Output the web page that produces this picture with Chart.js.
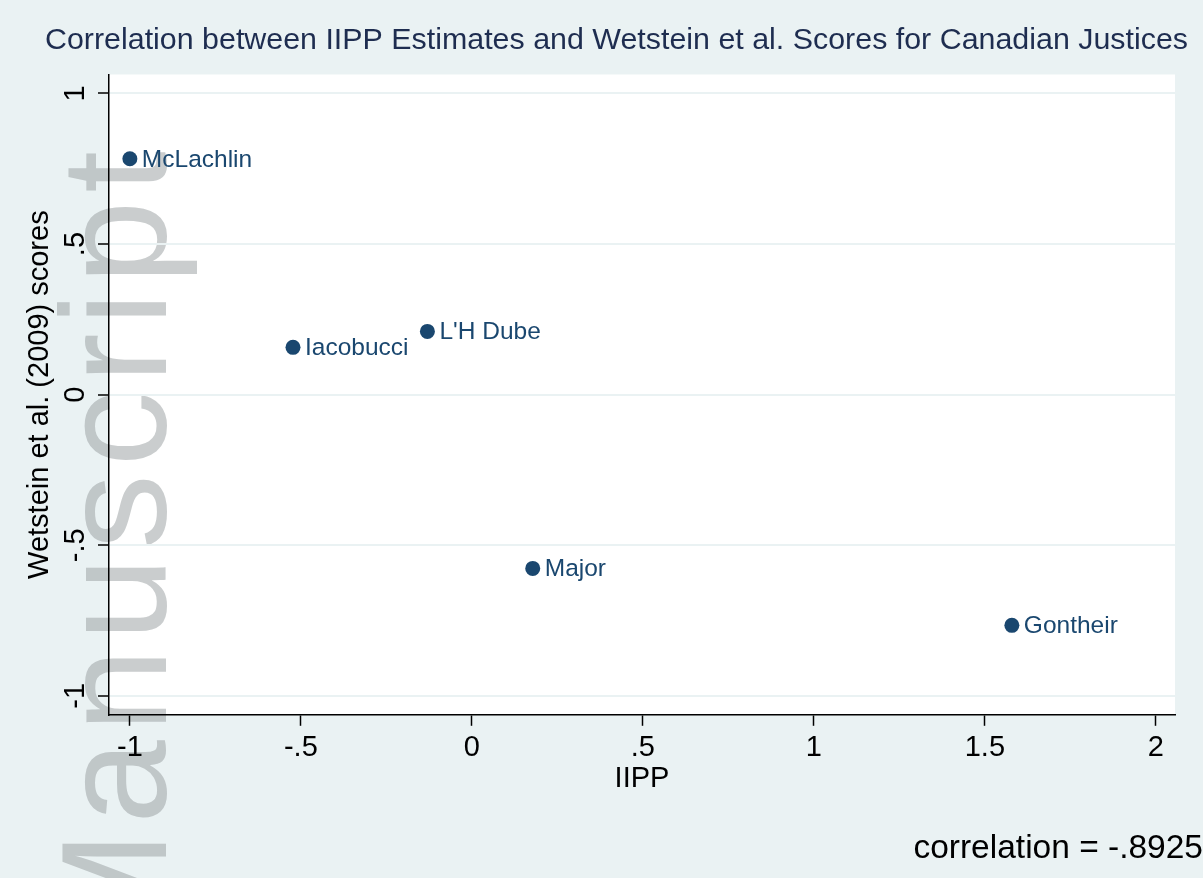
<!DOCTYPE html>
<html>
<head>
<meta charset="utf-8">
<script src="https://cdn.jsdelivr.net/npm/chart.js@4/dist/chart.umd.min.js"></script>
<style>
  html, body { margin: 0; padding: 0; background: #eaf2f3; }
  #wrap { width: 1203px; height: 878px; }
</style>
</head>
<body>
<div id="wrap"><canvas id="myChart" width="1203" height="878"></canvas></div>
<script>
// data
const justices = ['McLachlin', 'Iacobucci', "L'H Dube", 'Major', 'Gontheir'];
const iippScores = [-1.0, -0.523, -0.13, 0.178, 1.579];
const wetsteinScores = [0.783, 0.157, 0.21, -0.577, -0.766];
const xTickValues = [-1, -0.5, 0, 0.5, 1, 1.5, 2];
const yTickValues = [-1, -0.5, 0, 0.5, 1];
const correlationNote = 'correlation = -.8925';

const colors = {
    background: '#eaf2f3',
    plot: '#ffffff',
    marker: '#1a476f',
    title: '#1e2d50',
    text: '#000000',
    watermark: 'rgba(150, 155, 158, 0.5)'
};
const fontFamily = '"Liberation Sans", Arial, Helvetica, sans-serif';

// Stata-style numbers: .5 instead of 0.5
function stataFormat(v) {
    const s = String(Math.round(v * 100) / 100);
    return s.replace(/^(-?)0\./, '$1.');
}

const backgroundPlugin = {
    id: 'background',
    beforeDraw(chart) {
        const ctx = chart.ctx;
        const a = chart.chartArea;
        ctx.save();
        ctx.fillStyle = colors.background;
        ctx.fillRect(0, 0, chart.width, chart.height);
        ctx.fillStyle = colors.plot;
        ctx.fillRect(a.left, a.top, a.right - a.left, a.bottom - a.top);
        // faint "Manuscript" watermark running up the left side
        ctx.translate(166, 143);
        ctx.rotate(-Math.PI / 2);
        ctx.font = '150px ' + fontFamily;
        ctx.letterSpacing = '8px';
        ctx.textAlign = 'right';
        ctx.textBaseline = 'alphabetic';
        ctx.fillStyle = colors.watermark;
        ctx.fillText('Manuscript', 0, 0);
        ctx.restore();
    }
};

const pointLabels = {
    id: 'pointLabels',
    afterDatasetsDraw(chart) {
        const ctx = chart.ctx;
        const meta = chart.getDatasetMeta(0);
        ctx.save();
        ctx.font = '24.5px ' + fontFamily;
        ctx.fillStyle = colors.marker;
        ctx.textAlign = 'left';
        ctx.textBaseline = 'middle';
        meta.data.forEach((pt, i) => {
            ctx.fillText(justices[i], pt.x + 12, pt.y + 1);
        });
        ctx.restore();
    }
};

const ctx = document.getElementById('myChart').getContext('2d');
const myChart = new Chart(ctx, {
    type: 'scatter',
    data: {
        datasets: [{
            label: 'Justices',
            data: iippScores.map((x, i) => ({ x: x, y: wetsteinScores[i] })),
            backgroundColor: colors.marker,
            borderColor: colors.marker,
            borderWidth: 0,
            pointRadius: 7.5,
            pointHoverRadius: 7.5
        }]
    },
    options: {
        responsive: false,
        animation: false,
        events: [],
        layout: {
            padding: { left: 30, right: 0, top: 0, bottom: 0 }
        },
        scales: {
            x: {
                type: 'linear',
                position: 'bottom',
                min: -1.061,
                max: 2.056,
                afterBuildTicks(scale) {
                    scale.ticks = xTickValues.map(v => ({ value: v }));
                },
                afterFit(scale) { scale.height = 85; },
                ticks: {
                    callback: v => stataFormat(v),
                    color: colors.text,
                    font: { family: fontFamily, size: 29 },
                    padding: 5,
                    autoSkip: false,
                    maxRotation: 0,
                    minRotation: 0
                },
                grid: {
                    drawOnChartArea: false,
                    drawTicks: true,
                    tickLength: 11,
                    tickColor: colors.text,
                    tickWidth: 1.5
                },
                border: { display: true, color: colors.text, width: 1.5 },
                title: {
                    display: true,
                    text: 'IIPP',
                    color: colors.text,
                    font: { family: fontFamily, size: 29 },
                    padding: { top: 0, bottom: 3 }
                }
            },
            y: {
                type: 'linear',
                position: 'left',
                min: -1.063,
                max: 1.063,
                afterBuildTicks(scale) {
                    scale.ticks = yTickValues.map(v => ({ value: v }));
                },
                afterFit(scale) { scale.width = 79; },
                ticks: {
                    callback: v => stataFormat(v),
                    color: colors.text,
                    font: { family: fontFamily, size: 29 },
                    padding: 5,
                    crossAlign: 'center',
                    minRotation: 90,
                    maxRotation: 90,
                    autoSkip: false
                },
                grid: {
                    color: colors.background,
                    lineWidth: 2,
                    drawTicks: true,
                    tickLength: 11,
                    tickColor: colors.text,
                    tickWidth: 1.5
                },
                border: { display: true, color: colors.text, width: 1.5 },
                title: {
                    display: true,
                    text: 'Wetstein et al. (2009) scores',
                    color: colors.text,
                    font: { family: fontFamily, size: 29 },
                    padding: { top: -7, bottom: 0 }
                }
            },
            y2: {
                type: 'linear',
                position: 'right',
                afterFit(scale) { scale.width = 28; },
                ticks: { display: false },
                grid: { display: false },
                border: { display: false }
            }
        },
        plugins: {
            legend: { display: false },
            tooltip: { enabled: false },
            title: {
                display: true,
                text: 'Correlation between IIPP Estimates and Wetstein et al. Scores for Canadian Justices',
                color: colors.title,
                font: { family: fontFamily, size: 30.4, weight: 'normal' },
                padding: { top: 22, bottom: 16 }
            },
            subtitle: {
                display: true,
                position: 'bottom',
                align: 'end',
                text: correlationNote,
                color: colors.text,
                font: { family: fontFamily, size: 33.5, weight: 'normal' },
                padding: { top: 29, bottom: 9 }
            }
        }
    },
    plugins: [backgroundPlugin, pointLabels]
});
</script>
</body>
</html>
